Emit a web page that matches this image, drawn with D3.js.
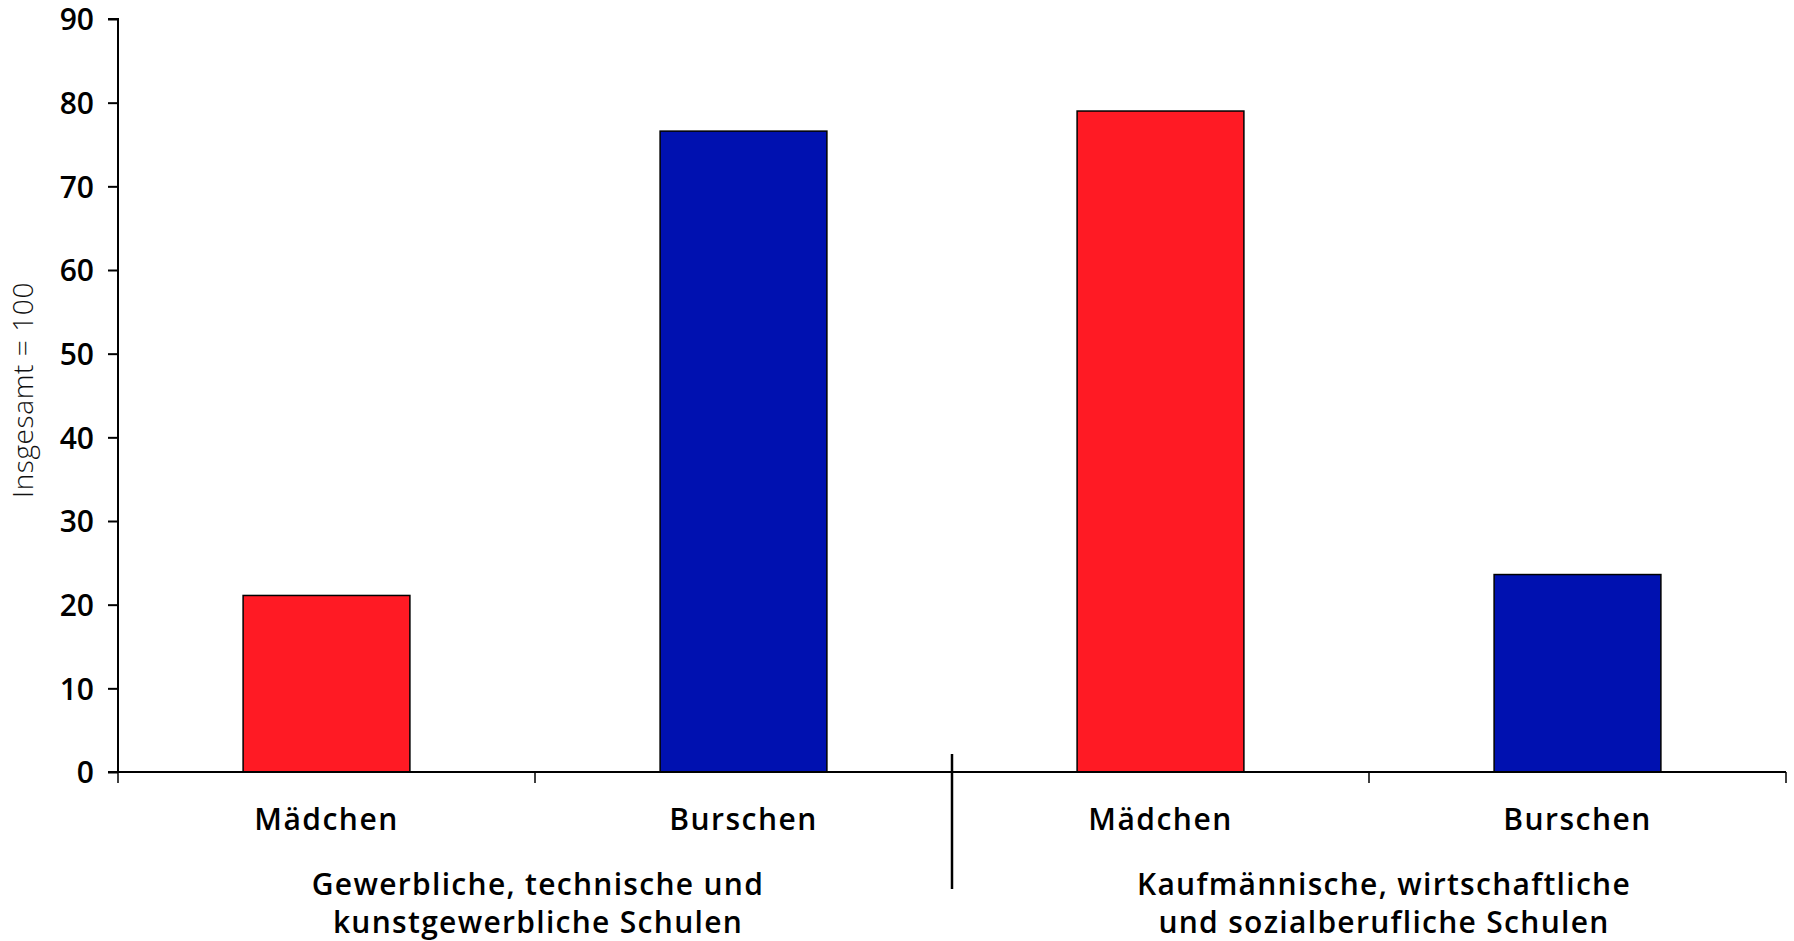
<!DOCTYPE html>
<html>
<head>
<meta charset="utf-8">
<script src="https://cdn.jsdelivr.net/npm/d3@7"></script>
<style>
  body { margin: 0; background: #fff; }
  text { font-family: "Open Sans", sans-serif; }
  .tick text { font-size: 30px; font-weight: 600; fill: #000; }
</style>
</head>
<body>
<div class="graph"></div>
<script>
// data
const categories = ["Mädchen", "Burschen", "Mädchen", "Burschen"];
const values = [21.1, 76.6, 79.0, 23.6];
const barColors = ["#ff1a24", "#0011b0", "#ff1a24", "#0011b0"];
const groupLabels = [
  ["Gewerbliche, technische und", "kunstgewerbliche Schulen"],
  ["Kaufmännische, wirtschaftliche", "und sozialberufliche Schulen"]
];
const yTicks = [0, 10, 20, 30, 40, 50, 60, 70, 80, 90];

const w = 1794;
const h = 941;
const padL = 118, padR = 1786, padT = 19, padB = 772;

const svg = d3.select(".graph")
  .append("svg")
  .attr("width", w)
  .attr("height", h);

const idx = categories.map((d, i) => i);

const xScale = d3.scaleBand()
  .domain(idx)
  .range([padL, padR])
  .paddingInner(0.6)
  .paddingOuter(0.3);

const yScale = d3.scaleLinear()
  .domain([0, 90])
  .range([padB, padT]);

// bars
svg.selectAll("rect")
  .data(values)
  .enter()
  .append("rect")
  .attr("x", (d, i) => xScale(i))
  .attr("y", d => yScale(d))
  .attr("width", xScale.bandwidth())
  .attr("height", d => padB - yScale(d))
  .attr("fill", (d, i) => barColors[i])
  .attr("stroke", "#000")
  .attr("stroke-width", 1.5);

// y axis
const yAxis = d3.axisLeft(yScale)
  .tickValues(yTicks)
  .tickSize(10)
  .tickPadding(14);

svg.append("g")
  .attr("transform", "translate(" + padL + ",0)")
  .call(yAxis)
  .call(g => g.selectAll("path, line").attr("stroke", "#000").attr("stroke-width", 2))
  .call(g => g.select(".domain").attr("d", "M-10," + padT + "H0V" + padB))
  .call(g => g.selectAll(".tick text").attr("dy", "0.36em"));

// x axis: boundary ticks between categories
const xEdges = d3.scaleLinear().domain([0, categories.length]).range([padL, padR]);

svg.append("line")
  .attr("x1", padL - 10).attr("x2", padR)
  .attr("y1", padB).attr("y2", padB)
  .attr("stroke", "#000").attr("stroke-width", 2);

svg.selectAll(".xtick")
  .data(d3.range(categories.length + 1))
  .enter()
  .append("line")
  .attr("class", "xtick")
  .attr("x1", d => xEdges(d)).attr("x2", d => xEdges(d))
  .attr("y1", padB).attr("y2", padB + 11)
  .attr("stroke", "#000").attr("stroke-width", 1.5);

// category labels
svg.selectAll(".cat")
  .data(categories)
  .enter()
  .append("text")
  .attr("class", "cat")
  .attr("x", (d, i) => xScale(i) + xScale.bandwidth() / 2)
  .attr("y", 830)
  .attr("text-anchor", "middle")
  .style("font-size", "30px")
  .style("font-weight", 600)
  .style("letter-spacing", "1.5px")
  .text(d => d);

// divider between groups
svg.append("line")
  .attr("x1", xEdges(2)).attr("x2", xEdges(2))
  .attr("y1", 754).attr("y2", 889)
  .attr("stroke", "#000").attr("stroke-width", 2.5);

// group labels
const groupShift = [3, 15];
groupLabels.forEach((lines, g) => {
  const cx = xEdges(g * 2 + 1) + groupShift[g];
  lines.forEach((t, j) => {
    svg.append("text")
      .attr("x", cx)
      .attr("y", 895 + j * 38)
      .attr("text-anchor", "middle")
      .style("font-size", "30px")
      .style("font-weight", 600)
      .style("letter-spacing", "1.3px")
      .text(t);
  });
});

// y axis title
svg.append("text")
  .attr("transform", "rotate(-90)")
  .attr("x", -390)
  .attr("y", 33)
  .attr("text-anchor", "middle")
  .style("font-size", "28px")
  .style("font-weight", 300)
  .style("letter-spacing", "0.6px")
  .style("fill", "#111")
  .text("Insgesamt = 100");
</script>
</body>
</html>
